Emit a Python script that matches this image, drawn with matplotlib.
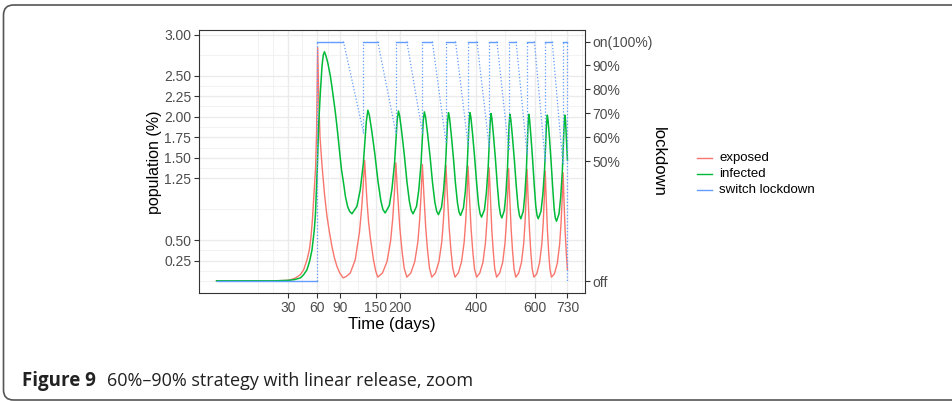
import numpy as np
import matplotlib
matplotlib.use("Agg")
import matplotlib.pyplot as plt
from matplotlib.lines import Line2D
from matplotlib.patches import FancyBboxPatch
from matplotlib.transforms import IdentityTransform

# ---- data (days, population %) ----
exposed_day = [
    0, 20, 28, 32, 37, 41.6, 45, 48.5, 51, 52.9, 54.5, 55.9, 57.2, 58.2, 59.3, 60.6,
    62, 63.5, 66, 69, 72.3, 75.5, 79, 82.5, 86, 90, 95,
    100, 106, 114, 121, 125, 127, 130, 134, 137, 140, 146, 150, 154,
    163.2, 172.3, 179.6, 184, 187.7, 190.6, 194.2, 199, 203.9, 208.7, 214.7,
    223.8, 233, 240.3, 244.6, 248.3, 251.2, 254.7, 259.4, 264.1, 268.8, 274.6,
    284, 293.3, 300.8, 305.3, 309, 312, 315.8, 320.8, 325.8, 330.8, 337,
    346.5, 356, 363.6, 368.2, 372, 375, 378.9, 384.1, 389.3, 394.5, 401,
    410.9, 420.8, 428.7, 433.5, 437.4, 440.6, 444.3, 449.1, 454, 458.9, 465,
    475.2, 485.4, 493.5, 498.4, 502.4, 505.7, 509.5, 514.6, 519.6, 524.7, 531,
    541.2, 551.3, 559.4, 564.3, 568.4, 571.6, 575.4, 580.5, 585.6, 590.7, 597,
    607.9, 618.8, 627.5, 632.7, 637, 640.5, 644.2, 649.1, 654, 658.9, 665,
    676.8, 688.5, 697.9, 703.5, 708.2, 712, 715.6, 720.4, 725.2, 730,
]
exposed_val = [
    0.005, 0.005, 0.01, 0.015, 0.04, 0.08, 0.14, 0.26, 0.38, 0.54, 0.75, 0.99, 1.2, 1.39, 1.8, 2.84,
    2.2, 1.75, 1.40, 1.07, 0.79, 0.60, 0.42, 0.28, 0.18, 0.10, 0.04,
    0.06, 0.10, 0.26, 0.59, 0.90, 1.11, 1.47, 0.99, 0.72, 0.54, 0.26, 0.13, 0.05,
    0.10, 0.24, 0.49, 0.76, 1.09, 1.44, 1.08, 0.66, 0.37, 0.16, 0.05,
    0.10, 0.24, 0.48, 0.75, 1.08, 1.42, 1.07, 0.65, 0.37, 0.16, 0.05,
    0.10, 0.24, 0.48, 0.75, 1.07, 1.41, 1.06, 0.65, 0.37, 0.16, 0.05,
    0.10, 0.24, 0.48, 0.74, 1.06, 1.40, 1.05, 0.64, 0.36, 0.15, 0.05,
    0.10, 0.23, 0.47, 0.73, 1.05, 1.38, 1.04, 0.63, 0.36, 0.15, 0.05,
    0.10, 0.23, 0.47, 0.73, 1.04, 1.37, 1.03, 0.63, 0.36, 0.15, 0.05,
    0.10, 0.23, 0.46, 0.72, 1.03, 1.36, 1.02, 0.63, 0.35, 0.15, 0.05,
    0.09, 0.23, 0.46, 0.71, 1.02, 1.34, 1.01, 0.62, 0.35, 0.15, 0.05,
    0.09, 0.22, 0.45, 0.70, 1.00, 1.32, 0.99, 0.61, 0.34, 0.14,
]

infected_day = [
    0, 20, 30, 36, 41.6, 45, 48.5, 51.5, 54, 56.7, 58, 59, 60.2, 61.8, 63.9, 66, 67.5, 69,
    71, 73.5, 76.7, 79, 83.6, 86, 89.8, 92.5, 95.7, 98.5, 101.8, 105, 108.7,
    116.8, 122.4, 127.7, 130.4, 133.1, 135.8, 138.4, 143, 148.9, 154.4, 160, 164.2, 168.6,
    176.9, 182.4, 187.9, 190.7, 193.4, 196.2, 198.8, 203.4, 209.3, 214.9, 220.5, 224.7, 229,
    237.1, 242.5, 247.9, 250.6, 253.3, 256, 258.9, 263.9, 270.4, 276.5, 282.6, 287.3, 292,
    300.1, 305.5, 310.9, 313.6, 316.3, 319, 321.7, 326.5, 332.6, 338.4, 344.2, 348.6, 353,
    361.3, 366.9, 372.5, 375.2, 378, 380.8, 383.6, 388.6, 395, 401.1, 407.1, 411.8, 416.4,
    425.5, 431.5, 437.5, 440.6, 443.6, 446.6, 449.5, 454.5, 461, 467.1, 473.2, 477.9, 482.6,
    490.9, 496.4, 501.9, 504.7, 507.4, 510.2, 513.3, 518.7, 525.7, 532.3, 538.9, 543.9, 549,
    557.7, 563.5, 569.3, 572.2, 575.1, 578, 580.8, 585.8, 592.2, 598.3, 604.3, 609, 613.6,
    624.1, 631.1, 638.1, 641.6, 645.1, 648.6, 651.5, 656.7, 663.2, 669.5, 675.7, 680.4, 685.2,
    695.3, 702.1, 708.9, 712.2, 715.6, 719, 721.9, 726, 730,
]
infected_val = [
    0.005, 0.005, 0.01, 0.02, 0.04, 0.08, 0.14, 0.25, 0.38, 0.63, 0.82, 1.07, 1.39, 1.90, 2.30, 2.62, 2.75, 2.79,
    2.74, 2.65, 2.50, 2.36, 2.06, 1.88, 1.57, 1.36, 1.19, 1.03, 0.91, 0.85, 0.82,
    0.91, 1.11, 1.43, 1.70, 1.95, 2.08, 2.02, 1.82, 1.53, 1.22, 0.98, 0.87, 0.83,
    0.92, 1.12, 1.44, 1.71, 1.96, 2.07, 2.01, 1.81, 1.52, 1.21, 0.97, 0.86, 0.82,
    0.91, 1.11, 1.43, 1.70, 1.95, 2.06, 2.00, 1.80, 1.51, 1.20, 0.96, 0.85, 0.81,
    0.90, 1.10, 1.42, 1.69, 1.94, 2.05, 1.99, 1.79, 1.50, 1.19, 0.95, 0.84, 0.80,
    0.89, 1.09, 1.41, 1.68, 1.93, 2.05, 1.99, 1.79, 1.50, 1.19, 0.93, 0.82, 0.78,
    0.87, 1.07, 1.39, 1.66, 1.91, 2.04, 1.98, 1.78, 1.49, 1.18, 0.92, 0.81, 0.77,
    0.86, 1.06, 1.38, 1.65, 1.90, 2.03, 1.97, 1.77, 1.48, 1.17, 0.91, 0.80, 0.76,
    0.85, 1.05, 1.37, 1.64, 1.89, 2.03, 1.97, 1.77, 1.48, 1.17, 0.91, 0.80, 0.76,
    0.85, 1.05, 1.37, 1.64, 1.89, 2.02, 1.96, 1.76, 1.47, 1.16, 0.88, 0.77, 0.73,
    0.82, 1.02, 1.34, 1.61, 1.86, 2.02, 1.96, 1.72, 1.47,
]

# lockdown level (0 = off, 1 = on)
lock_day = [0, 60, 60, 95.5, 128, 128, 154, 190.6, 190.6, 214.7, 251.2, 251.2, 276, 312, 312,
            338.5, 375, 375, 402, 440.6, 440.6, 466, 505.7, 505.7, 532, 571.6, 571.6, 599,
            640.5, 640.5, 668, 710.8, 710.8, 730, 730]
lock_val = [0, 0, 1, 1, 0.62, 1, 1, 0.62, 1, 1, 0.62, 1, 1, 0.58, 1,
            1, 0.57, 1, 1, 0.56, 1, 1, 0.55, 1, 1, 0.53, 1, 1,
            0.50, 1, 1, 0.49, 1, 1, 0]

x_breaks = [30, 60, 90, 150, 200, 400, 600, 730]
y_breaks = [0.25, 0.5, 1.25, 1.5, 1.75, 2.0, 2.25, 2.5, 3.0]
lock_breaks = [0, 0.5, 0.6, 0.7, 0.8, 0.9, 1.0]
lock_labels = ["off", "50%", "60%", "70%", "80%", "90%", "on(100%)"]

RED, GREEN, BLUE = "#F8766D", "#00BA38", "#619CFF"
SCALE = 2.915  # lockdown 1.0 drawn at this population value


def fwd(x):
    x = np.asarray(x, dtype=float)
    return np.sign(x) * np.sqrt(np.abs(x))


def inv(x):
    x = np.asarray(x, dtype=float)
    return np.sign(x) * x ** 2


def minor_breaks(b, lo, hi):
    """ggplot-like regular minor breaks (b in transformed space)"""
    b = list(b)
    bd = b[1] - b[0]
    if lo < b[0]:
        b = [b[0] - bd] + b
    if hi > b[-1]:
        b = b + [b[-1] + bd]
    out = []
    for a, c in zip(b[:-1], b[1:]):
        out += [a, (a + c) / 2]
    out.append(b[-1])
    return [v for v in out if lo <= v <= hi]


plt.rcParams['font.family'] = ['Liberation Sans', 'DejaVu Sans']
W, H = 952, 401
fig = plt.figure(figsize=(W / 100, H / 100), dpi=100)

ax = fig.add_axes([199 / W, 1 - 293 / H, 386 / W, 263 / H])
ax.set_xscale('function', functions=(fwd, inv))
xlo, xhi = -1.351, 28.37
ax.set_xlim(inv(xlo), inv(xhi))
ylo, yhi = -0.143, 3.055
ax.set_ylim(ylo, yhi)

# grid
sx = minor_breaks(list(fwd(x_breaks)), xlo, xhi)
ax.set_xticks(x_breaks)
ax.set_xticklabels([str(b) for b in x_breaks])
ax.set_xticks(list(inv(sx)), minor=True)
ax.set_yticks(y_breaks)
ax.set_yticklabels(["%.2f" % b for b in y_breaks])
ax.set_yticks(minor_breaks(y_breaks, ylo, yhi), minor=True)
ax.grid(which='major', color='#EBEBEB', lw=1.0)
ax.grid(which='minor', color='#F0F0F0', lw=0.6)
ax.set_axisbelow(True)

for s in ax.spines.values():
    s.set_color('#333333')
    s.set_linewidth(0.8)
ax.tick_params(which='major', length=3.5, width=0.8, color='#333333',
               labelsize=10, labelcolor='#4D4D4D', pad=2)
ax.tick_params(which='minor', length=0)

# curves
ax.plot(exposed_day, exposed_val, color=RED, lw=1.0, zorder=3)
ax.plot(infected_day, infected_val, color=GREEN, lw=1.1, zorder=3)
for i in range(len(lock_day) - 1):
    flat = lock_val[i] == lock_val[i + 1]
    ax.plot(lock_day[i:i + 2], [v * SCALE for v in lock_val[i:i + 2]], color=BLUE,
            lw=1.0 if flat else 0.9, ls='-' if flat else (0, (1, 1.6)), zorder=4)

sec = ax.secondary_yaxis('right', functions=(lambda y: y / SCALE, lambda y: y * SCALE))
sec.set_yticks(lock_breaks)
sec.set_yticklabels(lock_labels)
sec.spines['right'].set_visible(False)
sec.tick_params(length=3.5, width=0.8, color='#333333', labelsize=10,
                labelcolor='#4D4D4D', pad=2)

# axis titles
fig.text(155 / W, 1 - 162 / H, "population (%)", rotation=90, ha='center', va='center', fontsize=11.5)
fig.text(658 / W, 1 - 162 / H, "lockdown", rotation=270, ha='center', va='center', fontsize=12)
fig.text(392 / W, 1 - 325 / H, "Time (days)", ha='center', va='center', fontsize=12)

# legend
for k, (lab, col) in enumerate([("exposed", RED), ("infected", GREEN), ("switch lockdown", BLUE)]):
    yy = 1 - (158 + 16 * k) / H
    fig.add_artist(Line2D([697 / W, 712 / W], [yy, yy], color=col, lw=1.0))
    fig.text(719 / W, yy, lab, ha='left', va='center', fontsize=9.5, color='black')

# frame and caption
fig.add_artist(FancyBboxPatch((3.5, 1), 1000, 395, boxstyle='round,pad=0,rounding_size=10',
                              transform=IdentityTransform(), fill=False,
                              edgecolor='#555555', lw=1.2))
fig.text(22 / W, 1 - 386 / H, "Figure 9", fontsize=13.5, fontweight='bold',
         family=['Open Sans', 'DejaVu Sans'], va='baseline', color='#222222')
fig.text(107 / W, 1 - 386 / H, "60%\u201390% strategy with linear release, zoom", fontsize=13,
         family=['Open Sans', 'DejaVu Sans'], va='baseline', color='#222222')

fig.savefig("out.png", dpi=100)
